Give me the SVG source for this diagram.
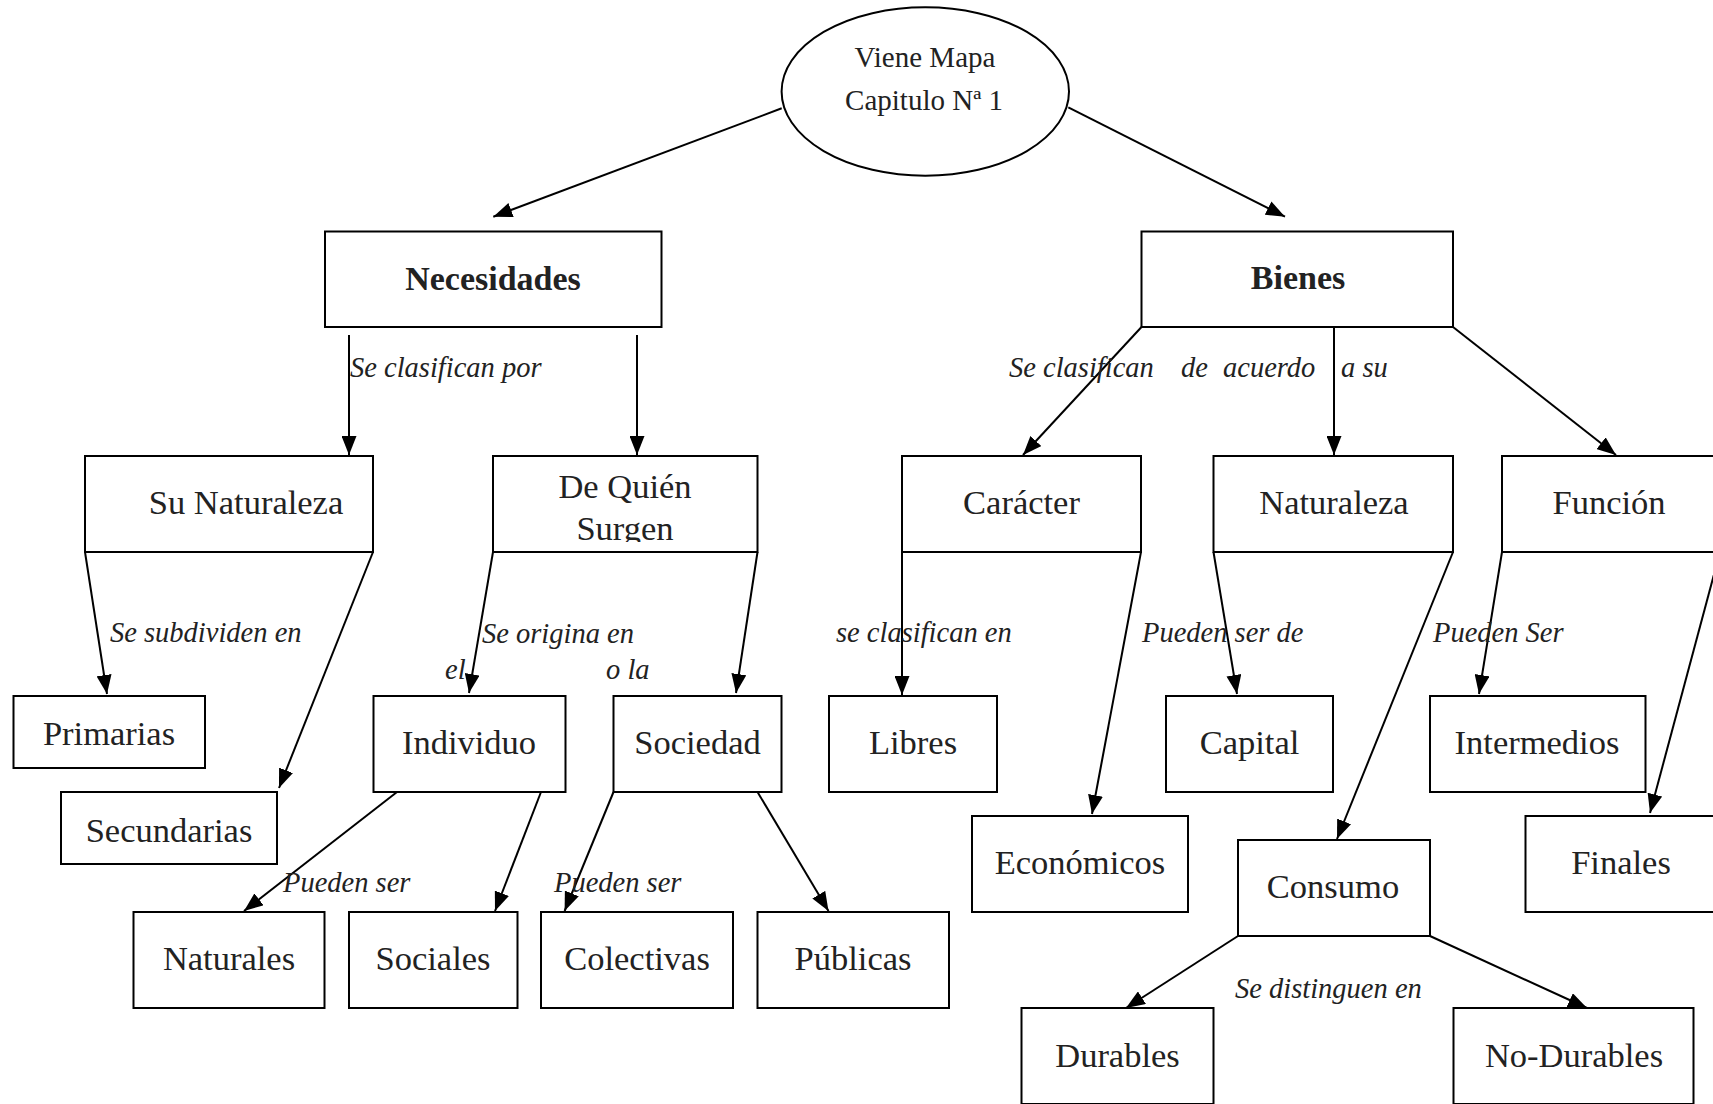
<svg xmlns="http://www.w3.org/2000/svg" width="1713" height="1104" viewBox="0 0 1713 1104">
  <style>
    .box { fill: #fff; stroke: #000; stroke-width: 2; }
    .lbl { font-family: "Liberation Serif", "Times New Roman", serif; font-size: 34.5px; fill: #222; text-anchor: middle; }
    .bold { font-weight: bold; font-size: 34px; }
    .top { font-size: 29px; }
    .it { font-family: "Liberation Serif", "Times New Roman", serif; font-style: italic; font-size: 28.5px; fill: #222; }
    .con line { stroke: #000; stroke-width: 2; marker-end: url(#head); }
  </style>
  <defs>
    <marker id="head" markerUnits="userSpaceOnUse" markerWidth="19" markerHeight="15" refX="19" refY="7.5" orient="auto">
      <path d="M0,0 L19,7.5 L0,15 z" fill="#000"/>
    </marker>
    <clipPath id="clipSurgen">
      <rect x="493" y="456" width="265" height="86"/>
    </clipPath>
  </defs>
  <rect width="1713" height="1104" fill="#fff"/>

  <!-- connectors -->
  <g id="connectors" class="con">
    <line x1="781.7" y1="108.3" x2="493.3" y2="216.7"/>
    <line x1="1068.3" y1="107.3" x2="1285" y2="216.7"/>
    <line x1="349" y1="335" x2="349" y2="455"/>
    <line x1="637" y1="335" x2="637" y2="455"/>
    <line x1="85" y1="552" x2="107" y2="694"/>
    <line x1="373" y1="552" x2="279" y2="788"/>
    <line x1="493" y1="552" x2="469" y2="693"/>
    <line x1="757.5" y1="552" x2="736" y2="693"/>
    <line x1="1141.5" y1="327" x2="1023" y2="455"/>
    <line x1="1334" y1="327" x2="1334" y2="455"/>
    <line x1="1453" y1="327" x2="1616" y2="455"/>
    <line x1="902" y1="552" x2="902" y2="695"/>
    <line x1="1141" y1="552" x2="1092" y2="814"/>
    <line x1="1213.5" y1="552" x2="1237" y2="694"/>
    <line x1="1453" y1="552" x2="1337" y2="839"/>
    <line x1="1502" y1="552" x2="1479" y2="694"/>
    <line x1="1720" y1="552" x2="1650" y2="813"/>
    <line x1="397" y1="792" x2="244" y2="911"/>
    <line x1="541" y1="792" x2="495" y2="911"/>
    <line x1="613.5" y1="792" x2="564.6" y2="911"/>
    <line x1="757.5" y1="792" x2="828.5" y2="911"/>
    <line x1="1238" y1="936" x2="1126" y2="1008"/>
    <line x1="1430" y1="936" x2="1587" y2="1008"/>
  </g>

  <!-- connector labels -->
  <g id="labels">
    <text class="it" x="350" y="377">Se clasifican por</text>
    <text class="it" y="377"><tspan x="1009">Se clasifican</tspan><tspan x="1181">de</tspan><tspan x="1223">acuerdo</tspan><tspan x="1341">a su</tspan></text>
    <text class="it" x="110" y="642">Se subdividen en</text>
    <text class="it" x="482" y="642.5">Se origina en</text>
    <text class="it" x="445" y="679">el</text>
    <text class="it" x="606" y="679">o la</text>
    <text class="it" x="836" y="642">se clasifican en</text>
    <text class="it" x="1142" y="642">Pueden ser de</text>
    <text class="it" x="1433" y="642">Pueden Ser</text>
    <text class="it" x="283" y="892">Pueden ser</text>
    <text class="it" x="554" y="892">Pueden ser</text>
    <text class="it" x="1235" y="998">Se distinguen en</text>
  </g>

  <!-- nodes -->
  <g id="n-mapa">
    <ellipse cx="925.3" cy="91.5" rx="143.7" ry="84.2" fill="#fff" stroke="#000" stroke-width="2"/>
    <text class="lbl top" x="925" y="66.7">Viene Mapa</text>
    <text class="lbl top" x="924" y="110">Capitulo Nª 1</text>
  </g>
  <g id="n-necesidades">
    <rect class="box" x="325" y="231.5" width="336.5" height="95.5"/>
    <text class="lbl bold" x="493" y="290">Necesidades</text>
  </g>
  <g id="n-bienes">
    <rect class="box" x="1141.5" y="231.5" width="311.5" height="95.5"/>
    <text class="lbl bold" x="1298" y="289">Bienes</text>
  </g>
  <g id="n-su-naturaleza">
    <rect class="box" x="85" y="456" width="288" height="96"/>
    <text class="lbl" x="246" y="514">Su Naturaleza</text>
  </g>
  <g id="n-de-quien">
    <rect class="box" x="493" y="456" width="264.5" height="96"/>
    <text class="lbl" x="625" y="498">De Quién</text>
    <text class="lbl" x="625" y="540" clip-path="url(#clipSurgen)">Surgen</text>
  </g>
  <g id="n-caracter">
    <rect class="box" x="902" y="456" width="239" height="96"/>
    <text class="lbl" x="1021.5" y="514">Carácter</text>
  </g>
  <g id="n-naturaleza">
    <rect class="box" x="1213.5" y="456" width="239.5" height="96"/>
    <text class="lbl" x="1334" y="514">Naturaleza</text>
  </g>
  <g id="n-funcion">
    <rect class="box" x="1502" y="456" width="218" height="96"/>
    <text class="lbl" x="1609" y="514">Función</text>
  </g>
  <g id="n-primarias">
    <rect class="box" x="13.5" y="696" width="191.5" height="72"/>
    <text class="lbl" x="109" y="745">Primarias</text>
  </g>
  <g id="n-secundarias">
    <rect class="box" x="61" y="792" width="216" height="72"/>
    <text class="lbl" x="169" y="842">Secundarias</text>
  </g>
  <g id="n-individuo">
    <rect class="box" x="373.5" y="696" width="192" height="96"/>
    <text class="lbl" x="469" y="754">Individuo</text>
  </g>
  <g id="n-sociedad">
    <rect class="box" x="613.5" y="696" width="168" height="96"/>
    <text class="lbl" x="697.5" y="754">Sociedad</text>
  </g>
  <g id="n-libres">
    <rect class="box" x="829" y="696" width="168" height="96"/>
    <text class="lbl" x="913" y="754">Libres</text>
  </g>
  <g id="n-capital">
    <rect class="box" x="1166" y="696" width="167" height="96"/>
    <text class="lbl" x="1249.5" y="754">Capital</text>
  </g>
  <g id="n-intermedios">
    <rect class="box" x="1430" y="696" width="215.5" height="96"/>
    <text class="lbl" x="1537" y="754">Intermedios</text>
  </g>
  <g id="n-economicos">
    <rect class="box" x="972" y="816" width="216" height="96"/>
    <text class="lbl" x="1080" y="874">Económicos</text>
  </g>
  <g id="n-consumo">
    <rect class="box" x="1238" y="840" width="192" height="96"/>
    <text class="lbl" x="1333" y="898">Consumo</text>
  </g>
  <g id="n-finales">
    <rect class="box" x="1525.5" y="816" width="194.5" height="96"/>
    <text class="lbl" x="1621" y="874">Finales</text>
  </g>
  <g id="n-naturales">
    <rect class="box" x="133.5" y="912" width="191" height="96"/>
    <text class="lbl" x="229" y="970">Naturales</text>
  </g>
  <g id="n-sociales">
    <rect class="box" x="349" y="912" width="168.5" height="96"/>
    <text class="lbl" x="433" y="970">Sociales</text>
  </g>
  <g id="n-colectivas">
    <rect class="box" x="541" y="912" width="192" height="96"/>
    <text class="lbl" x="637" y="970">Colectivas</text>
  </g>
  <g id="n-publicas">
    <rect class="box" x="757.5" y="912" width="191.5" height="96"/>
    <text class="lbl" x="853" y="970">Públicas</text>
  </g>
  <g id="n-durables">
    <rect class="box" x="1021.5" y="1008" width="192" height="96"/>
    <text class="lbl" x="1117.5" y="1067">Durables</text>
  </g>
  <g id="n-no-durables">
    <rect class="box" x="1453.5" y="1008" width="240" height="96"/>
    <text class="lbl" x="1574" y="1067">No-Durables</text>
  </g>
</svg>
